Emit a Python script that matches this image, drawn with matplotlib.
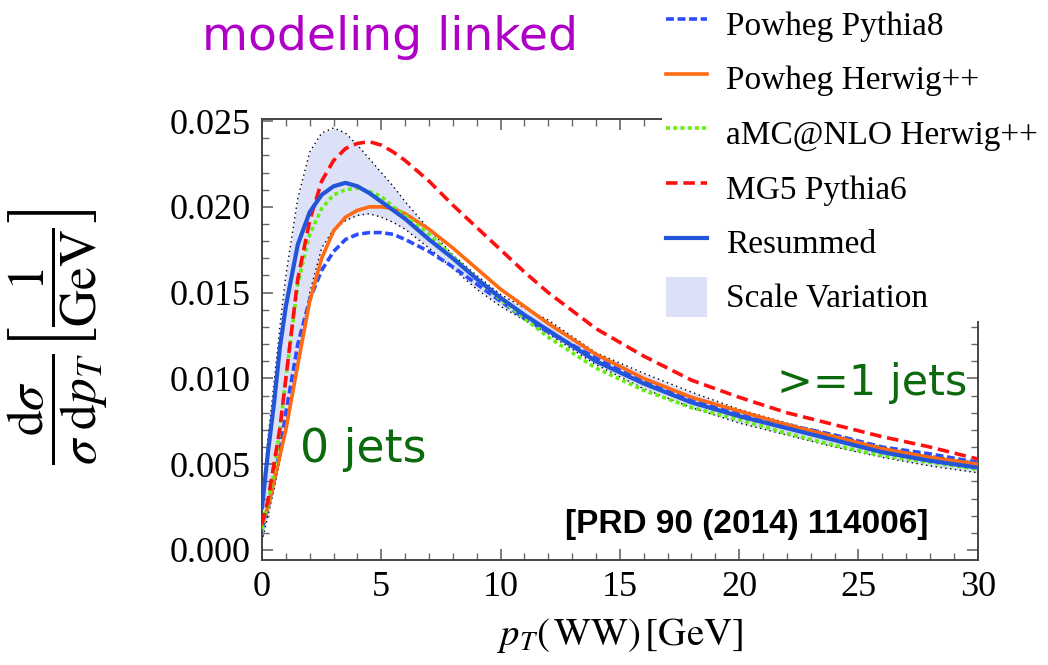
import matplotlib.pyplot as plt
from matplotlib.ticker import MultipleLocator, FormatStrFormatter
from matplotlib.patches import Patch
plt.switch_backend('agg')

plt.rcParams['font.family'] = ['Liberation Serif', 'DejaVu Sans']
plt.rcParams['mathtext.fontset'] = 'stix'

# pT(WW) grid [GeV]
pt = [0, 0.25, 0.5, 0.75, 1, 1.5, 2, 2.5, 3, 3.5, 4, 4.5, 5, 5.5, 6,
      7, 8, 9, 10, 11, 12, 14, 16, 18, 20, 22, 24, 26, 28, 30]

powheg_py8 = [0.0012, 0.0025, 0.0040, 0.0058, 0.0080, 0.0120, 0.0146, 0.0163, 0.0174, 0.0181,
              0.0184, 0.0185, 0.0185, 0.0184, 0.0181, 0.0174, 0.0165, 0.0155, 0.0145, 0.0135,
              0.0127, 0.0112, 0.0098, 0.0088, 0.0080, 0.0073, 0.0067, 0.0060, 0.0056, 0.0051]
powheg_hw = [0.0015, 0.0025, 0.0040, 0.0055, 0.0070, 0.0108, 0.0145, 0.0170, 0.0186, 0.0194,
             0.0198, 0.0200, 0.0200, 0.0199, 0.0196, 0.0187, 0.0176, 0.0164, 0.0152, 0.0142,
             0.0132, 0.0114, 0.0100, 0.0089, 0.0081, 0.0073, 0.0066, 0.0059, 0.0054, 0.0050]
amcnlo_hw = [0.0012, 0.0028, 0.0045, 0.0070, 0.0100, 0.0155, 0.0184, 0.0199, 0.0207, 0.0210,
             0.0211, 0.0209, 0.0206, 0.0200, 0.0195, 0.0184, 0.0171, 0.0158, 0.0146, 0.0135,
             0.0124, 0.0106, 0.0093, 0.0083, 0.0076, 0.0068, 0.0061, 0.0055, 0.0051, 0.0047]
mg5_py6 = [0.0015, 0.0029, 0.0050, 0.0071, 0.0100, 0.0158, 0.0192, 0.0215, 0.0227, 0.0234,
           0.0237, 0.0238, 0.0236, 0.0232, 0.0227, 0.0215, 0.0201, 0.0188, 0.0175, 0.0162,
           0.0150, 0.0129, 0.0113, 0.0099, 0.0089, 0.0080, 0.0073, 0.0066, 0.0060, 0.0053]
resummed = [0.0025, 0.0057, 0.0085, 0.0118, 0.0142, 0.0178, 0.0197, 0.0207, 0.0212, 0.0214,
            0.0212, 0.0208, 0.0203, 0.0198, 0.0193, 0.0181, 0.0170, 0.0158, 0.0147, 0.0137,
            0.0128, 0.0110, 0.0097, 0.0086, 0.0078, 0.0071, 0.0064, 0.0057, 0.0052, 0.0048]
band_hi = [0.0030, 0.0065, 0.0097, 0.0130, 0.0160, 0.0205, 0.0232, 0.0243, 0.0246, 0.0243,
           0.0236, 0.0228, 0.0220, 0.0212, 0.0203, 0.0187, 0.0172, 0.0160, 0.0149, 0.0141,
           0.0134, 0.0115, 0.0103, 0.0092, 0.0082, 0.0074, 0.0067, 0.0060, 0.0055, 0.0051]
band_lo = [0.0005, 0.0020, 0.0035, 0.0052, 0.0070, 0.0110, 0.0150, 0.0176, 0.0187, 0.0192,
           0.0195, 0.0196, 0.0194, 0.0191, 0.0187, 0.0176, 0.0164, 0.0152, 0.0142, 0.0134,
           0.0126, 0.0108, 0.0094, 0.0083, 0.0074, 0.0067, 0.0060, 0.0054, 0.0049, 0.0045]

fig = plt.figure(figsize=(10.48, 6.65), dpi=100)
ax = fig.add_axes([0.25, 0.158, 0.683, 0.663])

ax.fill_between(pt, band_lo, band_hi, color='#dde1f8', lw=0, zorder=1)
ax.plot(pt, band_hi, color='black', lw=1.0, dashes=(1, 2.5), zorder=2)
ax.plot(pt, band_lo, color='black', lw=1.0, dashes=(1, 2.5), zorder=2)

l1, = ax.plot(pt, powheg_py8, color='#2b4cff', lw=2.6, dashes=(2.2, 1.0), zorder=3)
l2, = ax.plot(pt, powheg_hw, color='#ff6a13', lw=2.6, zorder=3)
l3, = ax.plot(pt, amcnlo_hw, color='#66ee11', lw=2.6, dashes=(1.1, 0.9), zorder=4)
l4, = ax.plot(pt, mg5_py6, color='#ff1010', lw=2.6, dashes=(3.2, 1.6), zorder=4)
l5, = ax.plot(pt, resummed, color='#2355d8', lw=3.0, zorder=5)

ax.set_xlim(0, 30)
ax.set_ylim(-0.00058, 0.02512)
ax.xaxis.set_major_locator(MultipleLocator(5))
ax.xaxis.set_minor_locator(MultipleLocator(1))
ax.yaxis.set_major_locator(MultipleLocator(0.005))
ax.yaxis.set_minor_locator(MultipleLocator(0.001))
ax.yaxis.set_major_formatter(FormatStrFormatter('%.3f'))
ax.tick_params(which='both', direction='in', top=True, right=True, color='#666666',
               labelsize=26, pad=8)
ax.tick_params(which='major', length=8, width=1.2)
ax.tick_params(which='minor', length=5, width=1.0)
for s in ax.spines.values():
    s.set_color('#444444')
    s.set_linewidth(1.4)

fig.text(0.592, 0.044, r'$p_T(\,\mathrm{WW})\,[\mathrm{GeV}]$', fontsize=28,
         ha='center', va='center')
fig.text(0.055, 0.493,
         r'$\dfrac{\mathrm{d}\sigma}{\sigma\;\mathrm{d}p_T}\left[\dfrac{1}{\mathrm{GeV}}\right]$',
         fontsize=37, rotation=90, ha='center', va='center')

fig.text(0.193, 0.925, 'modeling linked', color='#b000c8', fontsize=34,
         family='DejaVu Sans', ha='left', va='baseline')
fig.text(0.286, 0.306, '0 jets', color='#0b6a0b', fontsize=33,
         family='DejaVu Sans', ha='left', va='baseline')
fig.text(0.923, 0.406, '>=1 jets', color='#0b6a0b', fontsize=31,
         family='DejaVu Sans', ha='right', va='baseline')
fig.text(0.886, 0.198, '[PRD 90 (2014) 114006]', fontsize=24, fontweight='bold',
         family='Liberation Sans', ha='right', va='baseline')

handles = [l1, l2, l3, l4, l5, Patch(facecolor='#dde1f8', edgecolor='none')]
labels = ['Powheg Pythia8', 'Powheg Herwig++', 'aMC@NLO Herwig++',
          'MG5 Pythia6', 'Resummed', 'Scale Variation']
leg = fig.legend(handles, labels, loc='upper left', bbox_to_anchor=(0.632, 1.0),
                 fontsize=24, frameon=True, facecolor='white', edgecolor='none',
                 framealpha=1.0, fancybox=False, handlelength=1.25, handleheight=1.5,
                 handletextpad=0.55, labelspacing=0.42, borderpad=0.1, borderaxespad=0)

fig.savefig('out.png', dpi=100)
